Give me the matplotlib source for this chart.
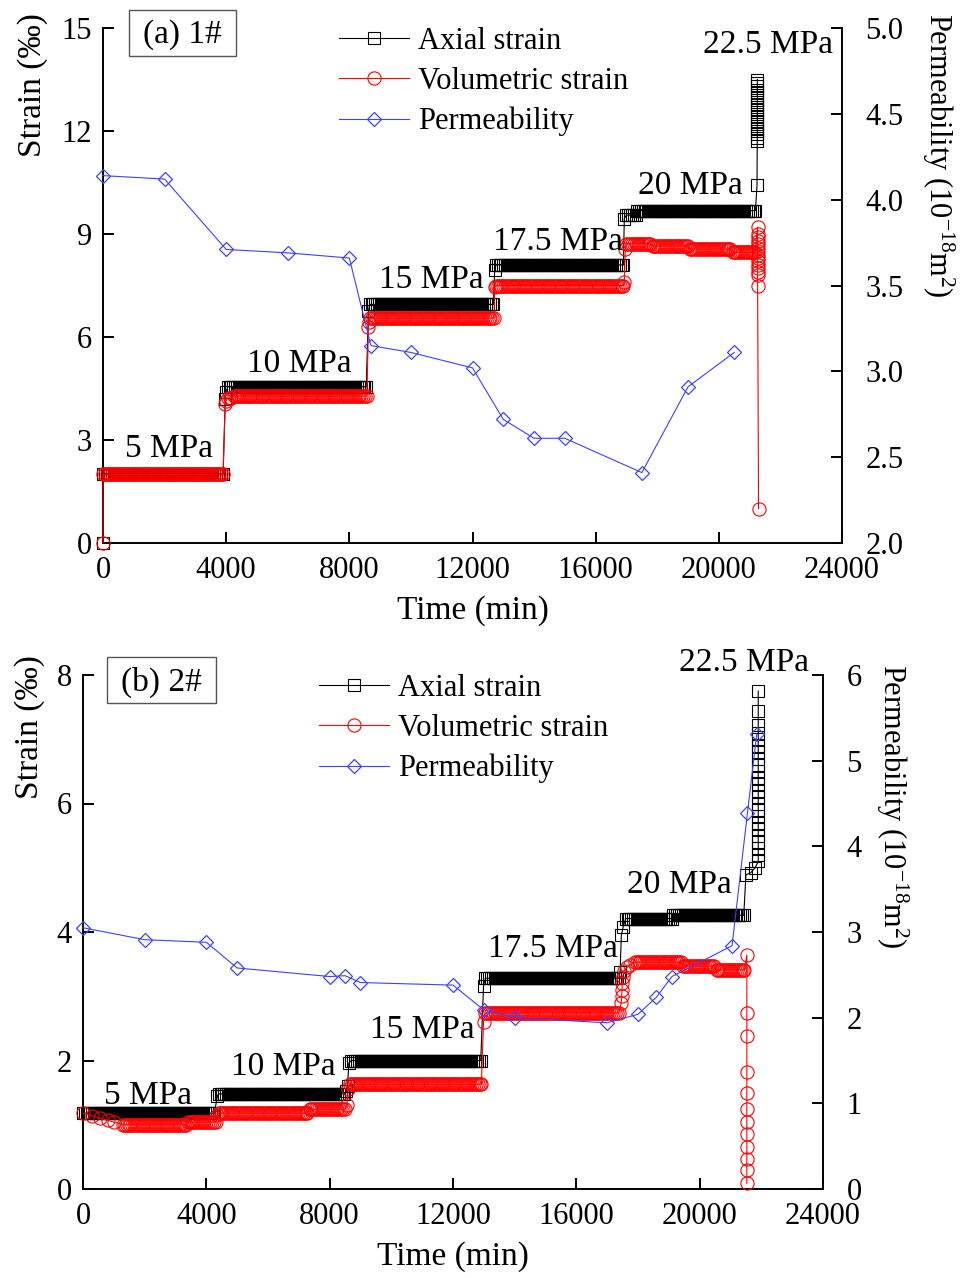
import matplotlib
matplotlib.use('Agg')
import matplotlib.pyplot as plt
from matplotlib.lines import Line2D
from matplotlib.patches import Rectangle
import numpy as np

# ---- style ----
plt.rcParams['font.family'] = ['Liberation Serif', 'DejaVu Serif']
plt.rcParams['mathtext.fontset'] = 'custom'
plt.rcParams['mathtext.rm'] = 'Liberation Serif'
plt.rcParams['mathtext.it'] = 'Liberation Serif:italic'

W, H = 972, 1278
C_AX = '#000000'
C_VOL = '#FF0000'
C_K = '#4040FF'
TICK_FS = 22
LAB_FS = 24
LOG_STEP = 60   # logging interval of the strain records (min)

# ---- data: panel (a) 1# ----
# strain stages as (t_start, t_end, level); t_start == t_end is a single reading
axial_a_stages = [
    (0, 0, 0.0), (0, 3950, 2.02), (3970, 3970, 4.2), (4000, 4000, 4.4),
    (4050, 8600, 4.55), (8620, 8620, 6.75), (8660, 12700, 6.95),
    (12720, 12720, 7.95), (12760, 16900, 8.1), (16930, 16930, 9.45),
    (17000, 17300, 9.55), (17350, 21230, 9.68), (21240, 21240, 10.43),
]
axial_a_final_t = 21250
axial_a_final = [11.7, 11.8, 11.9, 12.0, 12.1, 12.2, 12.3, 12.4, 12.5, 12.6,
                 12.7, 12.8, 12.9, 13.0, 13.1, 13.2, 13.3, 13.4, 13.5]

vol_a_stages = [
    (0, 0, 0.0), (0, 3950, 2.0), (3970, 3970, 4.05), (4000, 4000, 4.15),
    (4050, 4200, 4.22), (4250, 8600, 4.28), (8620, 8620, 6.3),
    (8640, 8640, 6.45), (8680, 12700, 6.55), (12720, 12720, 7.45),
    (12760, 16900, 7.5), (16930, 16930, 7.6), (16960, 16960, 8.55),
    (17000, 17800, 8.72), (17850, 19000, 8.65), (19050, 20400, 8.56),
    (20450, 21200, 8.47),
]
vol_a_final_t = 21260
vol_a_final = [9.2, 9.0, 8.9, 8.8, 8.7, 8.6, 8.5, 8.4, 8.3, 8.2, 8.1, 8.0,
               7.9, 7.8, 7.5]
vol_a_end = (21290, 1.0)

perm_a_t = [0, 2000, 4000, 6000, 8000, 8700, 10000, 12000, 13000, 14000,
            15000, 17500, 19000, 20500]
perm_a_k = [4.14, 4.12, 3.71, 3.69, 3.66, 3.15, 3.11, 3.02, 2.72, 2.61,
            2.61, 2.41, 2.91, 3.11]

# ---- data: panel (b) 2# ----
axial_b_stages = [
    (0, 4300, 1.18), (4360, 4360, 1.45), (4400, 8500, 1.48),
    (8540, 8540, 1.52), (8580, 8580, 1.6), (8620, 8620, 1.96),
    (8700, 12950, 2.0), (12990, 12990, 3.16), (13050, 17380, 3.28),
    (17420, 17420, 3.38), (17460, 17460, 3.95), (17520, 17520, 4.08),
    (17600, 19100, 4.21), (19150, 21450, 4.26), (21500, 21500, 4.89),
    (21650, 21650, 4.92), (21800, 21800, 5.0),
]
axial_b_final_t = 21900
axial_b_final = [5.1, 5.2, 5.3, 5.4, 5.5, 5.6, 5.7, 5.8, 5.9, 6.0, 6.1,
                 6.2, 6.3, 6.4, 6.5, 6.6, 6.7, 6.8, 6.9, 7.0, 7.1, 7.22,
                 7.44, 7.75]

vol_b_stages = [
    (0, 0, 1.18), (300, 300, 1.14), (550, 550, 1.1), (800, 800, 1.07),
    (1000, 1000, 1.04), (1300, 3350, 1.0), (3400, 4300, 1.04),
    (4360, 4360, 1.15), (4400, 7300, 1.18), (7350, 8500, 1.24),
    (8560, 8560, 1.3), (8600, 8600, 1.55), (8660, 12950, 1.63),
    (12990, 12990, 2.6), (13050, 17420, 2.74), (17460, 17460, 2.9),
    (17470, 17470, 3.0), (17480, 17480, 3.1), (17490, 17490, 3.2),
    (17500, 17500, 3.3), (17550, 17550, 3.4), (17650, 17650, 3.45),
    (17750, 17750, 3.49), (17900, 19400, 3.53), (19450, 20500, 3.47),
    (20550, 21500, 3.41),
]
vol_b_final_t = 21530
vol_b_final = [3.64, 2.74, 2.38, 1.82, 1.49, 1.25, 1.04, 0.86, 0.65, 0.47,
               0.30, 0.09]

perm_b_t = [0, 2000, 4000, 5000, 8000, 8500, 9000, 12000, 13000, 14000,
            17000, 18000, 18600, 19100, 21050, 21550, 21850]
perm_b_k = [3.05, 2.91, 2.88, 2.58, 2.48, 2.49, 2.41, 2.38, 2.09, 2.00,
            1.94, 2.04, 2.24, 2.48, 2.84, 4.39, 5.31]

# stress-stage labels: (text, t, strain) at text baseline-left
labels_a = [('5 MPa', 716, 2.5), ('10 MPa', 4690, 4.98), ('15 MPa', 8955, 7.43),
            ('17.5 MPa', 12650, 8.53), ('20 MPa', 17390, 10.17),
            ('22.5 MPa', 19500, 14.27)]
labels_b = [('5 MPa', 680, 1.32), ('10 MPa', 4810, 1.77), ('15 MPa', 9300, 2.35),
            ('17.5 MPa', 13140, 3.61), ('20 MPa', 17630, 4.61),
            ('22.5 MPa', 19320, 8.06)]


def expand(stages, col_t=None, col_vals=(), end=None):
    t, v = [], []
    for t0, t1, lev in stages:
        ts = [t0] if t1 <= t0 else list(np.arange(t0, t1 + 1, LOG_STEP))
        t += ts
        v += [lev] * len(ts)
    for val in col_vals:
        t.append(col_t)
        v.append(val)
    if end is not None:
        t.append(end[0])
        v.append(end[1])
    return np.array(t, float), np.array(v, float)


def fig_box(px):  # pixel box (left, top, right, bottom) -> fig fraction rect
    l, t, r, b = px
    return [l / W, 1 - b / H, (r - l) / W, (b - t) / H]


fig = plt.figure(figsize=(W / 100, H / 100), dpi=100)

MS_SQ, MS_CI, MS_DI = 8.5, 9.5, 7.5


def panel(rect, axial, vol, perm_t, perm_k, ylim, yticks, klim, kticks, kfmt,
          stage_labels, tag, tag_box, legend_xy, ylab_xy, klab_xy, xlab_xy):
    ax = fig.add_axes(fig_box(rect))
    ax.plot(*axial, '-s', color=C_AX, lw=0.8, ms=MS_SQ, mfc='none', mec=C_AX,
            mew=0.8, clip_on=False, zorder=3)
    ax.plot(*vol, '-o', color=C_VOL, lw=0.8, ms=MS_CI, mfc='none', mec=C_VOL,
            mew=0.8, clip_on=False, zorder=4)
    ax.set_xlim(0, 24000)
    ax.set_xticks(np.arange(0, 24001, 4000))
    ax.set_ylim(*ylim)
    ax.set_yticks(yticks)
    for s in ('top', 'right'):
        ax.spines[s].set_visible(False)
    for s in ('left', 'bottom'):
        ax.spines[s].set_linewidth(1.4)
    ax.tick_params(direction='in', length=8, width=1.4, labelsize=TICK_FS)
    ax.tick_params(axis='x', pad=9)
    ax.tick_params(axis='y', pad=8)

    ax2 = ax.twinx()
    ax2.plot(perm_t, perm_k, '-D', color=C_K, lw=0.8, ms=MS_DI, mfc='none',
             mec=C_K, mew=0.9, clip_on=False)
    ax2.set_ylim(*klim)
    ax2.set_yticks(kticks)
    ax2.set_yticklabels([kfmt.format(k) for k in kticks])
    for s in ('top', 'left', 'bottom'):
        ax2.spines[s].set_visible(False)
    ax2.spines['right'].set_linewidth(1.4)
    ax2.tick_params(direction='in', length=8, width=1.4, labelsize=TICK_FS, pad=17)

    for txt, tx, ty in stage_labels:
        ax.text(tx, ty, txt, fontsize=LAB_FS, ha='left', va='baseline', zorder=6)

    # sample tag box
    l, t, r, b = tag_box
    fig.add_artist(Rectangle((l / W, 1 - b / H), (r - l) / W, (b - t) / H,
                             transform=fig.transFigure, fill=False,
                             ec='#555555', lw=1.0))
    fig.text((l + r) / 2 / W, 1 - ((t + b) / 2 + 2) / H, tag, fontsize=LAB_FS,
             ha='center', va='center')

    handles = [
        Line2D([], [], color=C_AX, lw=0.8, marker='s', ms=MS_SQ, mfc='none', mew=0.8),
        Line2D([], [], color=C_VOL, lw=0.8, marker='o', ms=MS_CI, mfc='none', mew=0.8),
        Line2D([], [], color=C_K, lw=0.8, marker='D', ms=MS_DI, mfc='none', mew=0.9),
    ]
    ax2.legend(handles, ['Axial strain', 'Volumetric strain', 'Permeability'],
               loc='upper left', bbox_to_anchor=(legend_xy[0] / W, 1 - legend_xy[1] / H),
               bbox_transform=fig.transFigure, frameon=False, fontsize=TICK_FS,
               borderpad=0, borderaxespad=0, handlelength=2.3, handletextpad=0.3,
               labelspacing=0.36, numpoints=1)

    fig.text(ylab_xy[0] / W, 1 - ylab_xy[1] / H, 'Strain (‰)', fontsize=LAB_FS,
             rotation=90, ha='center', va='center')
    fig.text(klab_xy[0] / W, 1 - klab_xy[1] / H,
             r'Permeability (10$^{\mathrm{-18}}$m$^{2}$)', fontsize=22,
             rotation=-90, ha='center', va='center')
    fig.text(xlab_xy[0] / W, 1 - xlab_xy[1] / H, 'Time (min)', fontsize=LAB_FS,
             ha='center', va='center')
    return ax, ax2


panel((103, 28, 842, 543),
      expand(axial_a_stages, axial_a_final_t, axial_a_final),
      expand(vol_a_stages, vol_a_final_t, vol_a_final, vol_a_end),
      perm_a_t, perm_a_k, (0, 15), [0, 3, 6, 9, 12, 15],
      (2.0, 5.0), [2.0, 2.5, 3.0, 3.5, 4.0, 4.5, 5.0], '{:.1f}',
      labels_a, '(a) 1#', (129, 10, 236, 56), (339, 27),
      (33, 85), (938, 155), (473, 611))

panel((83, 675, 823, 1189),
      expand(axial_b_stages, axial_b_final_t, axial_b_final),
      expand(vol_b_stages, vol_b_final_t, vol_b_final),
      perm_b_t, perm_b_k, (0, 8), [0, 2, 4, 6, 8],
      (0, 6), [0, 1, 2, 3, 4, 5, 6], '{:.0f}',
      labels_b, '(b) 2#', (107, 657, 216, 703), (319, 674),
      (30, 727), (892, 806), (453, 1257))

fig.savefig('out.png', dpi=100, facecolor='white')
